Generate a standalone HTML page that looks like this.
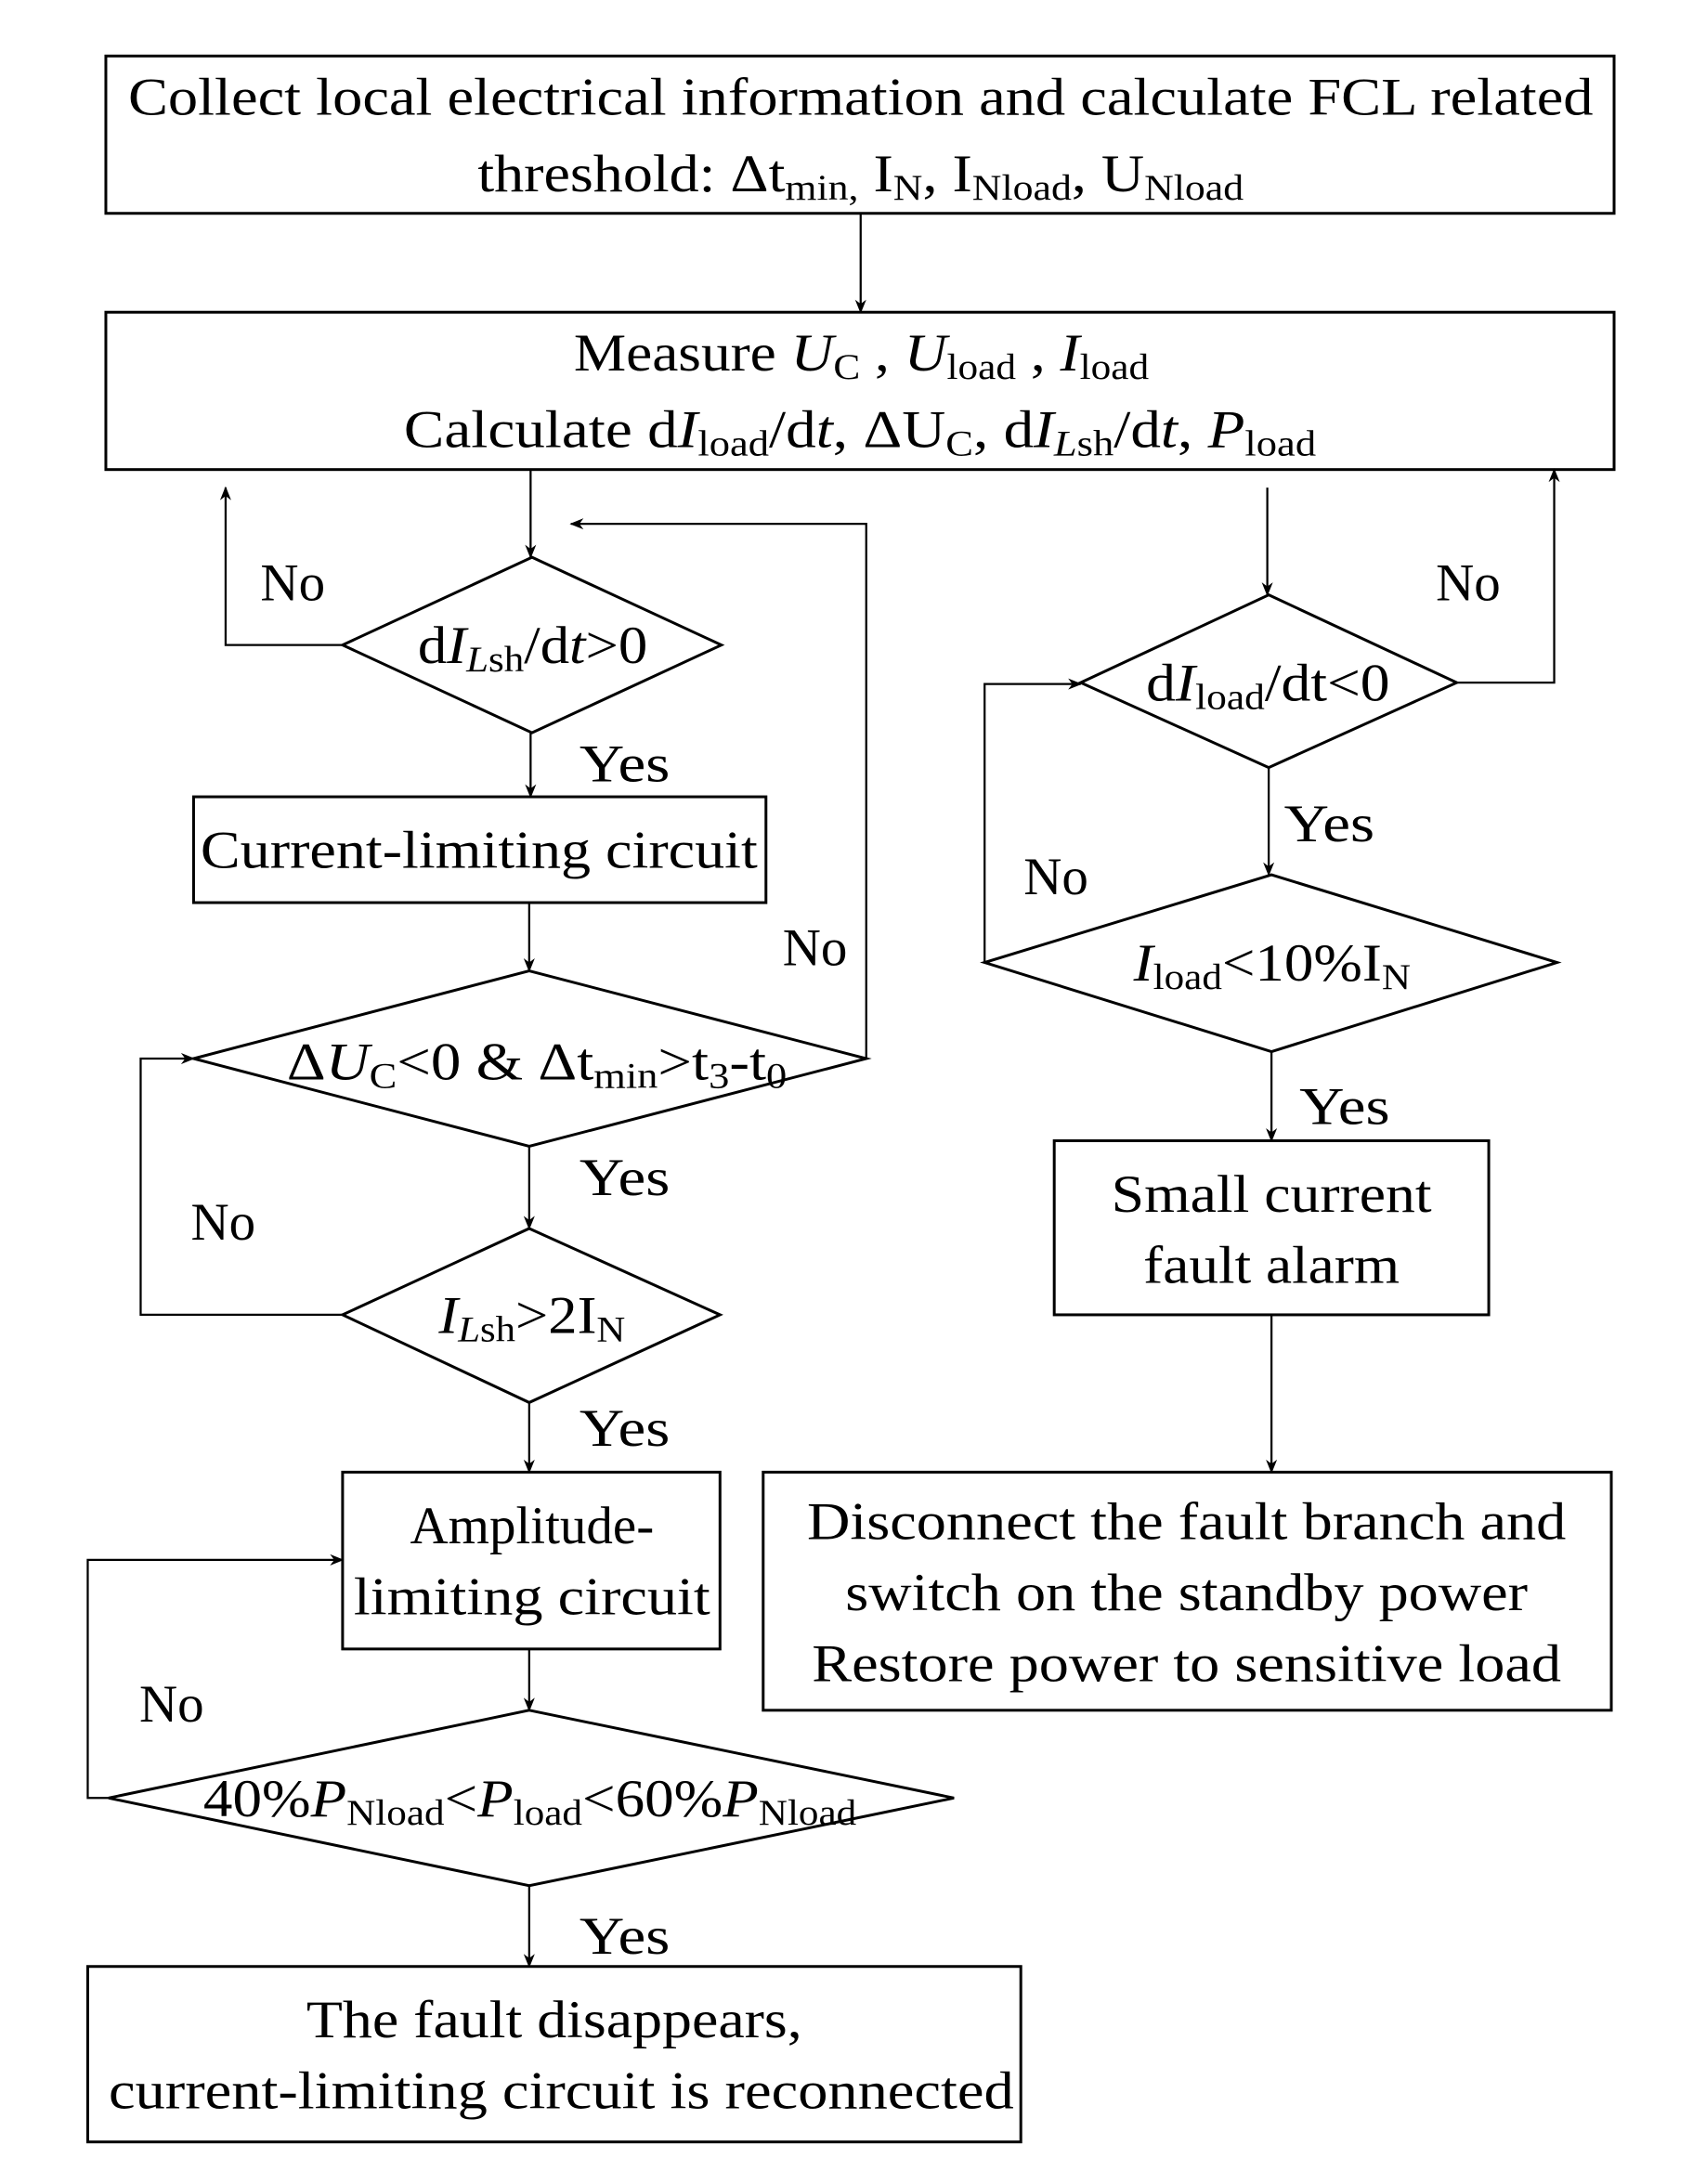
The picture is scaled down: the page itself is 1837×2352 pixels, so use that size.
<!DOCTYPE html>
<html><head><meta charset="utf-8"><style>
html,body{margin:0;padding:0;background:#fff}
svg{display:block}
text{font-family:"Liberation Serif",serif;font-size:38px;fill:#000}
.i{font-style:italic}
</style></head><body>
<svg width="1837" height="2352" viewBox="0 0 1225 1568" xmlns="http://www.w3.org/2000/svg">
<defs>
<marker id="a" markerWidth="10" markerHeight="10" refX="9" refY="5" orient="auto" markerUnits="userSpaceOnUse">
<path d="M0,1 L10,5 L0,9 L3,5 Z" fill="#000"/></marker>
</defs>
<g fill="none" stroke="#000" stroke-width="2">
<rect x="76" y="40" width="1083" height="113"/>
<rect x="76" y="224" width="1083" height="113"/>
<rect x="139" y="572" width="411" height="76"/>
<rect x="246" y="1057" width="271" height="127"/>
<rect x="63" y="1412" width="670" height="126"/>
<rect x="757" y="819" width="312" height="125"/>
<rect x="548" y="1057" width="609" height="171"/>
<polygon points="382,400 518,463 382,526 246,463"/>
<polygon points="380,697 622,760 380,823 139,760"/>
<polygon points="380,882 517,944 380,1007 246,944"/>
<polygon points="380,1228 685,1291 380,1354 78,1291"/>
<polygon points="911,427 1046,490 911,551 776,490"/>
<polygon points="913,628 1118,691 913,755 707,691"/>
</g>
<g fill="none" stroke="#000" stroke-width="1.5" marker-end="url(#a)">
<path d="M618,153 V224"/>
<path d="M381,337 V400"/>
<path d="M246,463 H162 V350"/>
<path d="M381,526 V572"/>
<path d="M380,648 V697"/>
<path d="M622,760 V376 H410"/>
<path d="M380,823 V882"/>
<path d="M246,944 H101 V760 H139"/>
<path d="M380,1007 V1057"/>
<path d="M380,1184 V1228"/>
<path d="M78,1291 H63 V1120 H246"/>
<path d="M380,1354 V1412"/>
<path d="M910,350 V427"/>
<path d="M1046,490 H1116 V337"/>
<path d="M911,551 V628"/>
<path d="M707,691 V491 H776"/>
<path d="M913,755 V819"/>
<path d="M913,944 V1057"/>
</g>
<text x="618" y="82" text-anchor="middle" textLength="1052" lengthAdjust="spacingAndGlyphs">Collect local electrical information and calculate FCL related</text>
<text x="343" y="137" textLength="550" lengthAdjust="spacingAndGlyphs">threshold: <tspan>Δ</tspan>t<tspan font-size="26" dy="6">min,</tspan><tspan dy="-6"> I</tspan><tspan font-size="26" dy="6">N</tspan><tspan dy="-6">, I</tspan><tspan font-size="26" dy="6">Nload</tspan><tspan dy="-6">, U</tspan><tspan font-size="26" dy="6">Nload</tspan></text>
<text x="412" y="266" textLength="413" lengthAdjust="spacingAndGlyphs">Measure <tspan class="i">U</tspan><tspan font-size="26" dy="6">C</tspan><tspan dy="-6"> , </tspan><tspan class="i">U</tspan><tspan font-size="26" dy="6">load</tspan><tspan dy="-6"> , </tspan><tspan class="i">I</tspan><tspan font-size="26" dy="6">load</tspan></text>
<text x="290" y="321" textLength="655" lengthAdjust="spacingAndGlyphs">Calculate d<tspan class="i">I</tspan><tspan font-size="26" dy="6">load</tspan><tspan dy="-6">/d</tspan><tspan class="i">t</tspan>,  ΔU<tspan font-size="26" dy="6">C</tspan><tspan dy="-6">, d</tspan><tspan class="i">I</tspan><tspan font-size="26" dy="6" class="i">L</tspan><tspan font-size="26">sh</tspan><tspan dy="-6">/d</tspan><tspan class="i">t</tspan>, <tspan class="i">P</tspan><tspan font-size="26" dy="6">load</tspan></text>
<text x="300" y="476" textLength="165" lengthAdjust="spacingAndGlyphs">d<tspan class="i">I</tspan><tspan font-size="26" dy="6" class="i">L</tspan><tspan font-size="26">sh</tspan><tspan dy="-6">/d</tspan><tspan class="i">t</tspan>&gt;0</text>
<text x="187" y="431">No</text>
<text x="416" y="561" textLength="65" lengthAdjust="spacingAndGlyphs">Yes</text>
<text x="344" y="623" text-anchor="middle" textLength="400" lengthAdjust="spacingAndGlyphs">Current-limiting circuit</text>
<text x="562" y="693">No</text>
<text x="206" y="775" textLength="359" lengthAdjust="spacingAndGlyphs">Δ<tspan class="i">U</tspan><tspan font-size="26" dy="6">C</tspan><tspan dy="-6">&lt;0 &amp;  Δt</tspan><tspan font-size="26" dy="6">min</tspan><tspan dy="-6">&gt;t</tspan><tspan font-size="26" dy="6">3</tspan><tspan dy="-6">-t</tspan><tspan font-size="26" dy="6">0</tspan></text>
<text x="416" y="858" textLength="65" lengthAdjust="spacingAndGlyphs">Yes</text>
<text x="137" y="890">No</text>
<text x="315" y="957" textLength="134" lengthAdjust="spacingAndGlyphs"><tspan class="i">I</tspan><tspan font-size="26" dy="6" class="i">L</tspan><tspan font-size="26">sh</tspan><tspan dy="-6">&gt;2I</tspan><tspan font-size="26" dy="6">N</tspan></text>
<text x="416" y="1038" textLength="65" lengthAdjust="spacingAndGlyphs">Yes</text>
<text x="382" y="1108" text-anchor="middle">Amplitude-</text>
<text x="382" y="1159" text-anchor="middle" textLength="256" lengthAdjust="spacingAndGlyphs">limiting circuit</text>
<text x="100" y="1236">No</text>
<text x="146" y="1304" textLength="469" lengthAdjust="spacingAndGlyphs">40%<tspan class="i">P</tspan><tspan font-size="26" dy="6">Nload</tspan><tspan dy="-6">&lt;</tspan><tspan class="i">P</tspan><tspan font-size="26" dy="6">load</tspan><tspan dy="-6">&lt;60%</tspan><tspan class="i">P</tspan><tspan font-size="26" dy="6">Nload</tspan></text>
<text x="416" y="1403" textLength="65" lengthAdjust="spacingAndGlyphs">Yes</text>
<text x="398" y="1463" text-anchor="middle" textLength="356" lengthAdjust="spacingAndGlyphs">The fault disappears,</text>
<text x="403" y="1514" text-anchor="middle" textLength="650" lengthAdjust="spacingAndGlyphs">current-limiting circuit is reconnected</text>
<text x="1031" y="431">No</text>
<text x="823" y="503" textLength="175" lengthAdjust="spacingAndGlyphs">d<tspan class="i">I</tspan><tspan font-size="26" dy="6">load</tspan><tspan dy="-6">/dt&lt;0</tspan></text>
<text x="922" y="604" textLength="65" lengthAdjust="spacingAndGlyphs">Yes</text>
<text x="735" y="642">No</text>
<text x="814" y="704" textLength="199" lengthAdjust="spacingAndGlyphs"><tspan class="i">I</tspan><tspan font-size="26" dy="6">load</tspan><tspan dy="-6">&lt;10%I</tspan><tspan font-size="26" dy="6">N</tspan></text>
<text x="933" y="807" textLength="65" lengthAdjust="spacingAndGlyphs">Yes</text>
<text x="913" y="870" text-anchor="middle" textLength="230" lengthAdjust="spacingAndGlyphs">Small current</text>
<text x="913" y="921" text-anchor="middle" textLength="184" lengthAdjust="spacingAndGlyphs">fault alarm</text>
<text x="852" y="1105" text-anchor="middle" textLength="545" lengthAdjust="spacingAndGlyphs">Disconnect the fault branch and</text>
<text x="852" y="1156" text-anchor="middle" textLength="490" lengthAdjust="spacingAndGlyphs">switch on the standby power</text>
<text x="852" y="1207" text-anchor="middle" textLength="538" lengthAdjust="spacingAndGlyphs">Restore power to sensitive load</text>
</svg>
</body></html>
